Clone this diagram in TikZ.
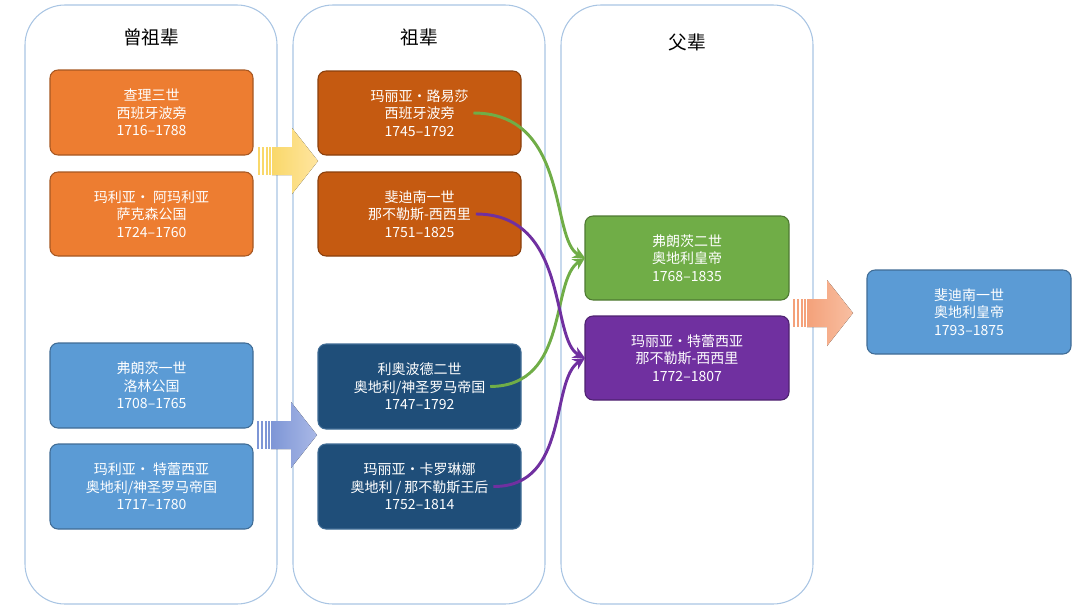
\documentclass[tikz,border=0pt]{standalone}
\usepackage{fontspec}
\setmainfont{Liberation Sans}
\newfontfamily\cjk{Noto Sans CJK SC}
\usetikzlibrary{arrows.meta}
\definecolor{colb}{HTML}{A9C5E3}
\definecolor{ora}{HTML}{ED7D31}
\definecolor{dora}{HTML}{C55A11}
\definecolor{blu}{HTML}{5B9BD5}
\definecolor{dblu}{HTML}{1F4E79}
\definecolor{grn}{HTML}{70AD47}
\definecolor{pur}{HTML}{7030A0}
\definecolor{ya1}{HTML}{F9D86A}
\definecolor{ya2}{HTML}{FFE5A0}
\definecolor{ba1}{HTML}{7E96D6}
\definecolor{ba2}{HTML}{A9B8E6}
\definecolor{oa1}{HTML}{F4A17A}
\definecolor{oa2}{HTML}{F8BFA2}
\begin{document}
\begin{tikzpicture}[x=0.75pt,y=-0.75pt,
 col/.style={draw=colb,rounded corners=30pt,line width=0.8pt},
 bx/.style={rounded corners=6pt,line width=0.8pt,text=white,align=center,font=\cjk\fontsize{10.5}{13}\selectfont},
 ttl/.style={font=\cjk\fontsize{14}{16}\selectfont},
 cv/.style={line width=2.2pt,-{Stealth[length=9pt,width=9pt]}}]
\useasboundingbox (0,0) rectangle (1080,614);
\draw[col] (25,5) rectangle (277,604);
\draw[col] (293,5) rectangle (545,604);
\draw[col] (561,5) rectangle (813,604);
\node[ttl] (t1) at (151,37) {曾祖辈};
\node[ttl] (t2) at (419,37) {祖辈};
\node[ttl] (t3) at (687,42) {父辈};
\newcommand{\bxx}[8]{\fill[#6,rounded corners=6pt] (#2,#3) rectangle (#4,#5);
 \draw[#7,rounded corners=6pt,line width=0.8pt] (#2,#3) rectangle (#4,#5);
 \node[bx] (#1) at ({(#2+#4)/2},{(#3+#5)/2}) {#8};}
\bxx{a1}{50}{70}{253}{155}{ora}{ora!70!black}{查理三世\\西班牙波旁\\1716–1788}
\bxx{a2}{50}{172}{253}{256}{ora}{ora!70!black}{玛利亚· 阿玛利亚\\萨克森公国\\1724–1760}
\bxx{a3}{50}{343}{253}{428}{blu}{blu!70!black}{弗朗茨一世\\洛林公国\\1708–1765}
\bxx{a4}{50}{444}{253}{529}{blu}{blu!70!black}{玛利亚· 特蕾西亚\\奥地利/神圣罗马帝国\\1717–1780}
\bxx{b1}{318}{71}{521}{155}{dora}{dora!70!black}{玛丽亚·路易莎\\西班牙波旁\\1745–1792}
\bxx{b2}{318}{172}{521}{256}{dora}{dora!70!black}{斐迪南一世\\那不勒斯-西西里\\1751–1825}
\bxx{b3}{318}{344}{521}{429}{dblu}{blu!70!black}{利奥波德二世\\奥地利/神圣罗马帝国\\1747–1792}
\bxx{b4}{318}{444}{521}{529}{dblu}{blu!70!black}{玛丽亚·卡罗琳娜\\奥地利 / 那不勒斯王后\\1752–1814}
\bxx{c1}{585}{216}{789}{300}{grn}{grn!70!black}{弗朗茨二世\\奥地利皇帝\\1768–1835}
\bxx{c2}{585}{316}{789}{400}{pur}{pur!70!black}{玛丽亚·特蕾西亚\\那不勒斯-西西里\\1772–1807}
\bxx{d1}{867}{270}{1071}{354}{blu}{blu!70!black}{斐迪南一世\\奥地利皇帝\\1793–1875}
\coordinate (g) at (585,258);
\coordinate (p) at (585,358);
\draw[cv,grn] (b1.east) .. controls (570,113) and (550,240) .. (g);
\draw[cv,grn] (b3.east) .. controls (570,386) and (550,280) .. (g);
\draw[cv,pur] (b2.east) .. controls (570,214) and (550,340) .. (p);
\draw[cv,pur] (b4.east) .. controls (570,487) and (550,380) .. (p);
\newcommand{\barr}[5]{%
 \fill[left color=#4,right color=#5] (#1+14,#2-14) -- (#1+34,#2-14) -- (#1+34,#2-33) -- (#1+60,#2) -- (#1+34,#2+33) -- (#1+34,#2+14) -- (#1+14,#2+14) -- cycle;
 \foreach \i in {0,4,8,11} \fill[#4] (#1+\i,#2-14) rectangle (#1+\i+2,#2+14);
 \node (#3) at (#1+30,#2) {};}
\barr{258}{161}{ya}{ya1}{ya2}
\barr{257}{435}{ba}{ba1}{ba2}
\barr{793}{313}{oa}{oa1}{oa2}
\end{tikzpicture}
\end{document}
